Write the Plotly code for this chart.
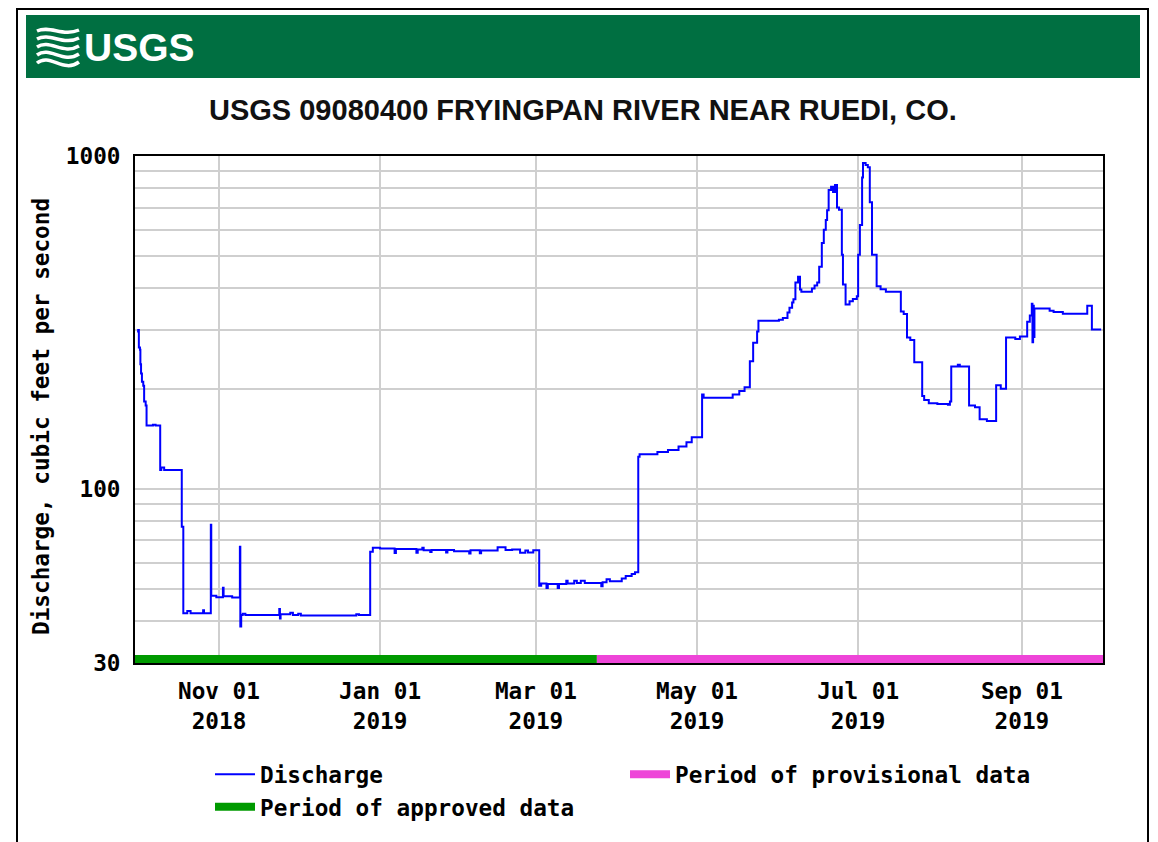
import math
import plotly.graph_objects as go

# ---------------- data ----------------
dates = [
    "2018-10-01 00:00", "2018-10-01 10:00", "2018-10-01 16:00", "2018-10-02 02:00", "2018-10-02 06:00",
    "2018-10-02 12:00", "2018-10-02 20:00", "2018-10-03 08:00", "2018-10-03 16:00", "2018-10-04 06:00",
    "2018-10-04 14:00", "2018-10-07 00:00", "2018-10-08 00:00", "2018-10-09 18:00", "2018-10-10 04:00",
    "2018-10-11 06:00", "2018-10-17 22:00", "2018-10-18 12:00", "2018-10-20 00:00", "2018-10-21 06:00",
    "2018-10-26 00:00", "2018-10-26 08:00", "2018-10-28 22:00", "2018-10-29 02:00", "2018-10-31 00:00",
    "2018-11-02 12:00", "2018-11-02 18:00", "2018-11-06 00:00", "2018-11-08 22:00", "2018-11-09 02:00",
    "2018-11-09 10:00", "2018-11-10 00:00", "2018-11-11 00:00", "2018-11-23 20:00", "2018-11-24 02:00",
    "2018-11-24 08:00", "2018-11-28 00:00", "2018-11-29 00:00", "2018-12-01 00:00", "2018-12-02 00:00",
    "2018-12-23 00:00", "2018-12-24 00:00", "2018-12-28 06:00", "2018-12-29 06:00", "2019-01-01 00:00",
    "2019-01-06 12:00", "2019-01-07 00:00", "2019-01-14 18:00", "2019-01-15 06:00", "2019-01-17 00:00",
    "2019-01-17 12:00", "2019-01-20 00:00", "2019-01-20 12:00", "2019-01-26 00:00", "2019-01-26 12:00",
    "2019-01-29 00:00", "2019-02-03 18:00", "2019-02-04 06:00", "2019-02-07 18:00", "2019-02-08 06:00",
    "2019-02-14 12:00", "2019-02-17 12:00", "2019-02-20 00:00", "2019-02-23 00:00", "2019-02-25 00:00",
    "2019-02-26 00:00", "2019-02-28 00:00", "2019-03-02 06:00", "2019-03-03 00:00", "2019-03-05 00:00",
    "2019-03-05 12:00", "2019-03-09 06:00", "2019-03-09 18:00", "2019-03-12 12:00", "2019-03-13 00:00",
    "2019-03-15 12:00", "2019-03-16 12:00", "2019-03-18 00:00", "2019-03-19 12:00", "2019-03-25 18:00",
    "2019-03-26 06:00", "2019-03-27 18:00", "2019-03-29 00:00", "2019-04-02 12:00", "2019-04-04 00:00",
    "2019-04-06 06:00", "2019-04-07 12:00", "2019-04-08 18:00", "2019-04-09 06:00", "2019-04-16 00:00",
    "2019-04-20 00:00", "2019-04-24 00:00", "2019-04-27 00:00", "2019-04-29 00:00", "2019-05-02 22:00",
    "2019-05-03 12:00", "2019-05-14 12:00", "2019-05-17 00:00", "2019-05-19 00:00", "2019-05-21 00:00",
    "2019-05-22 06:00", "2019-05-23 18:00", "2019-05-24 06:00", "2019-06-01 00:00", "2019-06-02 12:00",
    "2019-06-04 06:00", "2019-06-05 00:00", "2019-06-06 00:00", "2019-06-06 12:00", "2019-06-07 06:00",
    "2019-06-08 06:00", "2019-06-09 00:00", "2019-06-09 12:00", "2019-06-13 12:00", "2019-06-14 12:00",
    "2019-06-15 12:00", "2019-06-16 06:00", "2019-06-17 06:00", "2019-06-18 00:00", "2019-06-18 18:00",
    "2019-06-19 06:00", "2019-06-19 20:00", "2019-06-20 18:00", "2019-06-21 12:00", "2019-06-22 06:00",
    "2019-06-23 00:00", "2019-06-23 18:00", "2019-06-24 20:00", "2019-06-25 06:00", "2019-06-26 06:00",
    "2019-06-27 18:00", "2019-06-29 00:00", "2019-06-30 12:00", "2019-07-01 00:00", "2019-07-01 16:00",
    "2019-07-02 12:00", "2019-07-02 20:00", "2019-07-03 20:00", "2019-07-04 16:00", "2019-07-05 10:00",
    "2019-07-06 06:00", "2019-07-08 00:00", "2019-07-09 12:00", "2019-07-11 12:00", "2019-07-17 04:00",
    "2019-07-18 06:00", "2019-07-19 12:00", "2019-07-20 18:00", "2019-07-22 06:00", "2019-07-25 06:00",
    "2019-07-26 00:00", "2019-07-27 18:00", "2019-07-31 00:00", "2019-08-04 00:00", "2019-08-04 18:00",
    "2019-08-05 06:00", "2019-08-07 18:00", "2019-08-08 12:00", "2019-08-12 00:00", "2019-08-14 06:00",
    "2019-08-16 00:00", "2019-08-18 18:00", "2019-08-22 06:00", "2019-08-24 00:00", "2019-08-26 00:00",
    "2019-08-29 12:00", "2019-08-31 06:00", "2019-09-03 00:00", "2019-09-04 00:00", "2019-09-04 18:00",
    "2019-09-05 00:00", "2019-09-05 06:00", "2019-09-05 12:00", "2019-09-05 18:00", "2019-09-11 12:00",
    "2019-09-13 00:00", "2019-09-16 12:00", "2019-09-25 18:00", "2019-09-27 12:00", "2019-10-01 00:00",
]
discharge = [
    297, 300, 266, 262, 237,
    222, 210, 204, 183, 178,
    155, 156, 155, 114, 116,
    114, 77, 42.3, 43.0, 42.3,
    43.2, 42.3, 78, 47.8, 47.3,
    50.5, 47.6, 47.2, 67, 38.6,
    41.8, 42.2, 41.8, 43.6, 40.8,
    42.0, 42.5, 41.8, 42.2, 41.7,
    42.0, 41.8, 64.8, 66.6, 66.2,
    64.2, 66.0, 64.3, 65.8, 66.6,
    65.4, 64.6, 65.6, 64.4, 65.5,
    65.0, 64.0, 65.4, 64.1, 65.3,
    66.8, 65.5, 65.8, 64.3, 65.3,
    64.4, 65.4, 51.2, 52.0, 50.4,
    51.8, 50.4, 51.8, 53.0, 52.0,
    53.0, 52.2, 53.0, 52.2, 51.0,
    52.4, 53.5, 52.8, 53.8, 54.8,
    55.5, 56.2, 125, 127, 129,
    131, 134, 138, 143, 192,
    188, 192, 197, 202, 242,
    275, 297, 320, 322, 326,
    339, 350, 363, 371, 417,
    434, 397, 391, 400, 408,
    417, 465, 548, 600, 642,
    687, 790, 808, 780, 818,
    700, 690, 505, 411, 358,
    366, 372, 379, 505, 620,
    862, 952, 940, 925, 726,
    505, 406, 398, 391, 341,
    335, 285, 280, 240, 190,
    185, 181, 180, 179, 183,
    233, 236, 233, 178, 176,
    162, 160, 205, 200, 285,
    282, 287, 318, 332, 360,
    276, 355, 286, 348, 343,
    340, 336, 355, 301, 301,
]

x_tick_dates = ["2018-11-01", "2019-01-01", "2019-03-01", "2019-05-01", "2019-07-01", "2019-09-01"]
x_tick_labels = ["Nov 01<br>2018", "Jan 01<br>2019", "Mar 01<br>2019",
                 "May 01<br>2019", "Jul 01<br>2019", "Sep 01<br>2019"]
y_grid_values = [30, 40, 50, 60, 70, 80, 90, 100, 200, 300, 400, 500, 600, 700, 800, 900, 1000]
y_labelled = {30: "30", 100: "100", 1000: "1000"}

approved_period = ["2018-09-29 00:00", "2019-03-24 02:00"]
provisional_period = ["2019-03-24 02:00", "2019-10-03 00:00"]
x_range = ["2018-09-30 05:00", "2019-10-01 17:00"]

title_text = "USGS 09080400 FRYINGPAN RIVER NEAR RUEDI, CO."
y_title = "Discharge, cubic feet per second"

# ---------------- layout geometry ----------------
OFF = 8                       # page body margin
W, H = 1158 - OFF, 842 - OFF
L, R, T, B = 135 - OFF, 1103 - OFF, 156 - OFF, 663 - OFF
PW, PH = R - L, B - T


def px(x):
    return (x - OFF - L) / PW


def py(y):
    return (B - (y - OFF)) / PH


MONO = "DejaVu Sans Mono"
MONO_SIZE = 22.7
BLUE = "#0000FF"
GREEN = "#009A00"
PINK = "#EE45D8"
USGS_GREEN = "#006F41"

fig = go.Figure()
fig.add_trace(go.Scatter(x=dates, y=discharge, mode="lines", line=dict(color=BLUE, width=2, shape="hv"),
                         name="Discharge", hoverinfo="x+y"))
fig.add_trace(go.Scatter(x=[None], y=[None], mode="lines", line=dict(color=PINK, width=8),
                         name="Period of provisional data"))
fig.add_trace(go.Scatter(x=[None], y=[None], mode="lines", line=dict(color=GREEN, width=8),
                         name="Period of approved data"))

shapes = []
# outer frame
shapes.append(dict(type="rect", xref="paper", yref="paper", x0=px(17), x1=px(1148), y0=py(9), y1=py(900),
                   line=dict(color="black", width=2), fillcolor="rgba(0,0,0,0)", layer="below"))
# banner
shapes.append(dict(type="rect", xref="paper", yref="paper", x0=px(26), x1=px(1140), y0=py(15), y1=py(78),
                   line=dict(width=0), fillcolor=USGS_GREEN, layer="below"))
# logo waves
for i, yy in enumerate([31, 39, 47, 55, 63]):
    amp = 3 + i * 0.6
    path = "M {:.5f},{:.5f} C {:.5f},{:.5f} {:.5f},{:.5f} {:.5f},{:.5f}".format(
        px(37), py(yy), px(50), py(yy - amp * 2), px(63), py(yy + amp * 2), px(79), py(yy - 1))
    shapes.append(dict(type="path", xref="paper", yref="paper", path=path,
                       line=dict(color="white", width=3.5), layer="above"))
# approved / provisional bars
for period, col in [(approved_period, GREEN), (provisional_period, PINK)]:
    shapes.append(dict(type="rect", xref="x", yref="paper", x0=period[0], x1=period[1],
                       ysizemode="pixel", yanchor=0, y0=0, y1=8,
                       line=dict(width=0), fillcolor=col, layer="above"))

annotations = [
    dict(text="USGS", xref="paper", yref="paper", x=px(82), y=py(47), xanchor="left", yanchor="middle",
         showarrow=False, font=dict(family="Liberation Sans, Arial, sans-serif",
                                    size=39, color="white", weight="bold")),
    dict(text=title_text, xref="paper", yref="paper", x=px(583), y=py(110), xanchor="center", yanchor="middle",
         showarrow=False, font=dict(family="Liberation Sans, Arial, sans-serif",
                                    size=29, color="#111111", weight="bold")),
    dict(text=y_title, xref="paper", yref="paper", x=px(41), y=py(417), xanchor="center", yanchor="middle",
         textangle=-90, showarrow=False, font=dict(family=MONO, size=MONO_SIZE, color="black", weight="bold")),
]

fig.update_layout(
    width=W, height=H,
    margin=dict(l=L, r=W - R, t=T, b=H - B, autoexpand=False),
    paper_bgcolor="white", plot_bgcolor="white",
    showlegend=True,
    legend=dict(orientation="h", x=px(210), y=py(753), xanchor="left", yanchor="top",
                itemwidth=40, entrywidth=360, entrywidthmode="pixels", traceorder="normal",
                font=dict(family=MONO, size=MONO_SIZE, color="black", weight="bold"),
                bgcolor="rgba(0,0,0,0)", tracegroupgap=0),
    xaxis=dict(type="date", range=x_range, tickvals=x_tick_dates, ticktext=x_tick_labels,
               showgrid=True, gridcolor="#CFCFCF", gridwidth=2, zeroline=False,
               showline=True, linecolor="black", linewidth=2, mirror=True, ticks="",
               ticklabelstandoff=7,
               tickfont=dict(family=MONO, size=MONO_SIZE, color="black", weight="bold")),
    yaxis=dict(type="log", range=[math.log10(30), 3], tickvals=y_grid_values,
               ticktext=[y_labelled.get(v, "") for v in y_grid_values],
               showgrid=True, gridcolor="#CFCFCF", gridwidth=2, zeroline=False,
               showline=True, linecolor="black", linewidth=2, mirror=True, ticks="",
               ticklabelstandoff=8,
               tickfont=dict(family=MONO, size=MONO_SIZE, color="black", weight="bold")),
    shapes=shapes,
    annotations=annotations,
)

fig.write_html("out.html")
